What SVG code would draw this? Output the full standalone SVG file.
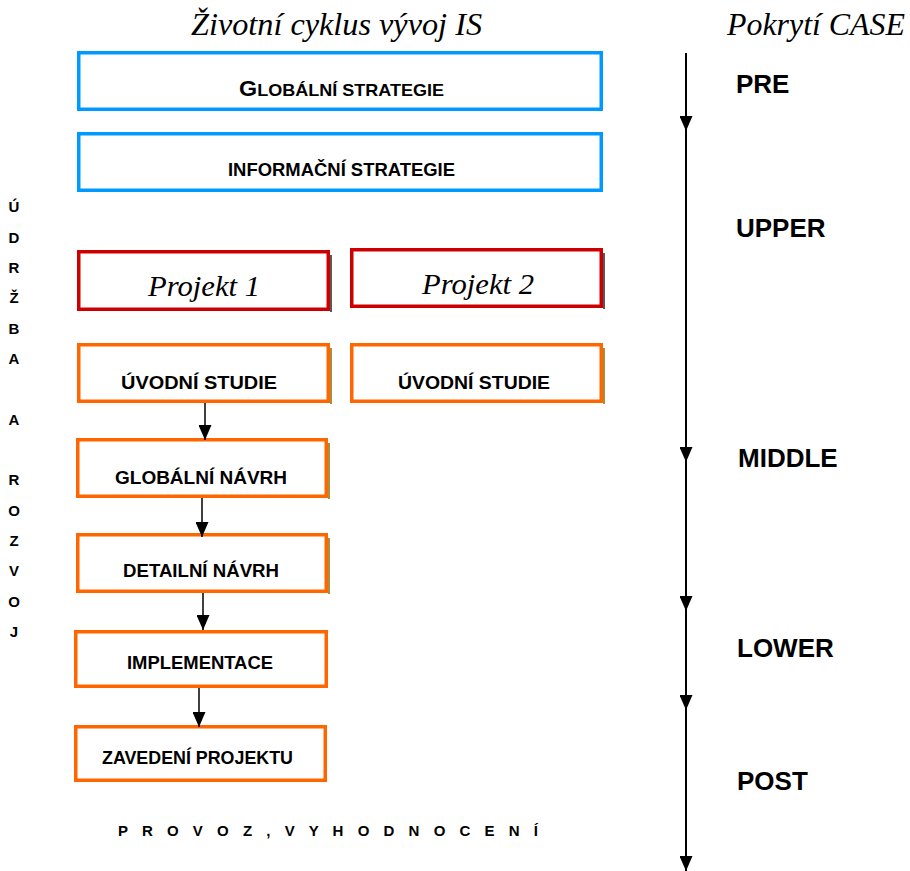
<svg xmlns="http://www.w3.org/2000/svg" width="910" height="871" viewBox="0 0 910 871">
  <style>
    .title { font-family: "Liberation Serif", "DejaVu Serif", serif; font-style: italic; font-size: 32px; fill: #000; }
    .proj { font-family: "Liberation Serif", "DejaVu Serif", serif; font-style: italic; font-size: 30px; fill: #000; }
    .lbl { font-family: "Liberation Sans", Arial, sans-serif; font-weight: bold; font-size: 19px; fill: #000; }
    .phase { font-family: "Liberation Sans", Arial, sans-serif; font-weight: bold; font-size: 26px; fill: #000; }
    .side { font-family: "Liberation Sans", Arial, sans-serif; font-weight: bold; font-size: 15px; fill: #000; text-anchor: middle; }
    .blue { fill: #fff; stroke: #0099ff; stroke-width: 3.5; }
    .red { fill: #fff; stroke: #cc0000; stroke-width: 3.5; }
    .orange { fill: #fff; stroke: #ff6600; stroke-width: 3.5; }
    .shadow-dark { stroke: #222; stroke-width: 1.5; fill: none; }
    .shadow-olive { stroke: #8a6a00; stroke-width: 1.5; fill: none; }
    .flow { stroke: #000; stroke-width: 1.5; fill: none; }
    .axis { stroke: #000; stroke-width: 2; fill: none; }
  </style>
  <defs>
    <marker id="head" viewBox="0 0 15 13" refX="15" refY="6.5" markerWidth="15" markerHeight="13" markerUnits="userSpaceOnUse" orient="auto">
      <path d="M0,0 L15,6.5 L0,13 Z" fill="#000"/>
    </marker>
  </defs>

  <!-- column headings -->
  <text class="title" x="191" y="35" textLength="291" lengthAdjust="spacingAndGlyphs">Životní cyklus vývoj IS</text>
  <text class="title" x="727" y="35" textLength="178" lengthAdjust="spacingAndGlyphs">Pokrytí CASE</text>

  <!-- strategy level -->
  <g id="globalni-strategie">
    <rect class="blue" x="78.75" y="52.75" width="522.5" height="56.5"/>
    <text class="lbl" x="239" y="96" textLength="205" lengthAdjust="spacingAndGlyphs"><tspan font-size="22">G</tspan><tspan font-size="17">LOBÁLNÍ STRATEGIE</tspan></text>
  </g>
  <g id="informacni-strategie">
    <rect class="blue" x="78.75" y="133.75" width="522.5" height="56.5"/>
    <text class="lbl" x="228" y="176" textLength="227" lengthAdjust="spacingAndGlyphs">INFORMAČNÍ STRATEGIE</text>
  </g>

  <!-- projects -->
  <g id="projekt-1">
    <path class="shadow-dark" d="M331,255 V312"/>
    <rect class="red" x="78.75" y="251.75" width="249.5" height="57.5"/>
    <text class="proj" x="148" y="296" textLength="112" lengthAdjust="spacingAndGlyphs">Projekt 1</text>
  </g>
  <g id="projekt-2">
    <path class="shadow-dark" d="M604,253 V309"/>
    <rect class="red" x="351.75" y="249.75" width="249.5" height="56.5"/>
    <text class="proj" x="422" y="294" textLength="112" lengthAdjust="spacingAndGlyphs">Projekt 2</text>
  </g>

  <!-- phases of project 1 -->
  <g id="uvodni-studie-1">
    <path class="shadow-olive" d="M331,348 V404"/>
    <rect class="orange" x="78.75" y="344.75" width="249.5" height="56.5"/>
    <text class="lbl" x="121" y="389" textLength="156" lengthAdjust="spacingAndGlyphs">ÚVODNÍ STUDIE</text>
  </g>
  <g id="uvodni-studie-2">
    <path class="shadow-olive" d="M604,348 V404"/>
    <rect class="orange" x="351.75" y="344.75" width="249.5" height="56.5"/>
    <text class="lbl" x="398" y="389" textLength="152" lengthAdjust="spacingAndGlyphs">ÚVODNÍ STUDIE</text>
  </g>
  <g id="globalni-navrh">
    <path class="shadow-olive" d="M329,443 V499"/>
    <rect class="orange" x="77.75" y="439.75" width="248.5" height="56.5"/>
    <text class="lbl" x="115" y="484" textLength="172" lengthAdjust="spacingAndGlyphs">GLOBÁLNÍ NÁVRH</text>
  </g>
  <g id="detailni-navrh">
    <path class="shadow-olive" d="M329,538 V594"/>
    <rect class="orange" x="77.75" y="534.75" width="248.5" height="56.5"/>
    <text class="lbl" x="123" y="577" textLength="156" lengthAdjust="spacingAndGlyphs">DETAILNÍ NÁVRH</text>
  </g>
  <g id="implementace">
    <rect class="orange" x="75.75" y="631.75" width="250.5" height="54.5"/>
    <text class="lbl" x="127" y="669" textLength="146" lengthAdjust="spacingAndGlyphs">IMPLEMENTACE</text>
  </g>
  <g id="zavedeni-projektu">
    <rect class="orange" x="75.75" y="726.75" width="249.5" height="53.5"/>
    <text class="lbl" x="102" y="764" textLength="191" lengthAdjust="spacingAndGlyphs">ZAVEDENÍ PROJEKTU</text>
  </g>

  <!-- maintenance label, one letter per line -->
  <g id="udrzba-a-rozvoj">
    <text class="side" x="14" y="212">Ú</text>
    <text class="side" x="14" y="243">D</text>
    <text class="side" x="14" y="273">R</text>
    <text class="side" x="14" y="303">Ž</text>
    <text class="side" x="14" y="334">B</text>
    <text class="side" x="14" y="364">A</text>
    <text class="side" x="14" y="425">A</text>
    <text class="side" x="14" y="485">R</text>
    <text class="side" x="14" y="516">O</text>
    <text class="side" x="14" y="546">Z</text>
    <text class="side" x="14" y="576">V</text>
    <text class="side" x="14" y="607">O</text>
    <text class="side" x="14" y="637">J</text>
  </g>

  <!-- operation label -->
  <g id="provoz">
    <text class="side" x="118" y="836" style="text-anchor:start" textLength="420" lengthAdjust="spacing">P R O V O Z , V Y H O D N O C E N Í</text>
  </g>

  <!-- CASE coverage labels -->
  <g id="case-phases">
    <text class="phase" x="736" y="93">PRE</text>
    <text class="phase" x="736" y="237">UPPER</text>
    <text class="phase" x="738" y="467">MIDDLE</text>
    <text class="phase" x="737" y="657">LOWER</text>
    <text class="phase" x="737" y="790">POST</text>
  </g>

  <!-- connectors -->
  <g id="connectors">
    <line class="flow" x1="205" y1="403" x2="205" y2="440" marker-end="url(#head)"/>
    <line class="flow" x1="202" y1="498" x2="202" y2="537" marker-end="url(#head)"/>
    <line class="flow" x1="203" y1="593" x2="203" y2="630" marker-end="url(#head)"/>
    <line class="flow" x1="199" y1="688" x2="199" y2="727" marker-end="url(#head)"/>

    <line class="axis" x1="686" y1="53" x2="686" y2="131" marker-end="url(#head)"/>
    <line class="axis" x1="686" y1="131" x2="686" y2="462" marker-end="url(#head)"/>
    <line class="axis" x1="686" y1="462" x2="686" y2="611" marker-end="url(#head)"/>
    <line class="axis" x1="686" y1="611" x2="686" y2="710" marker-end="url(#head)"/>
    <line class="axis" x1="686" y1="710" x2="686" y2="871" marker-end="url(#head)"/>
  </g>
</svg>
